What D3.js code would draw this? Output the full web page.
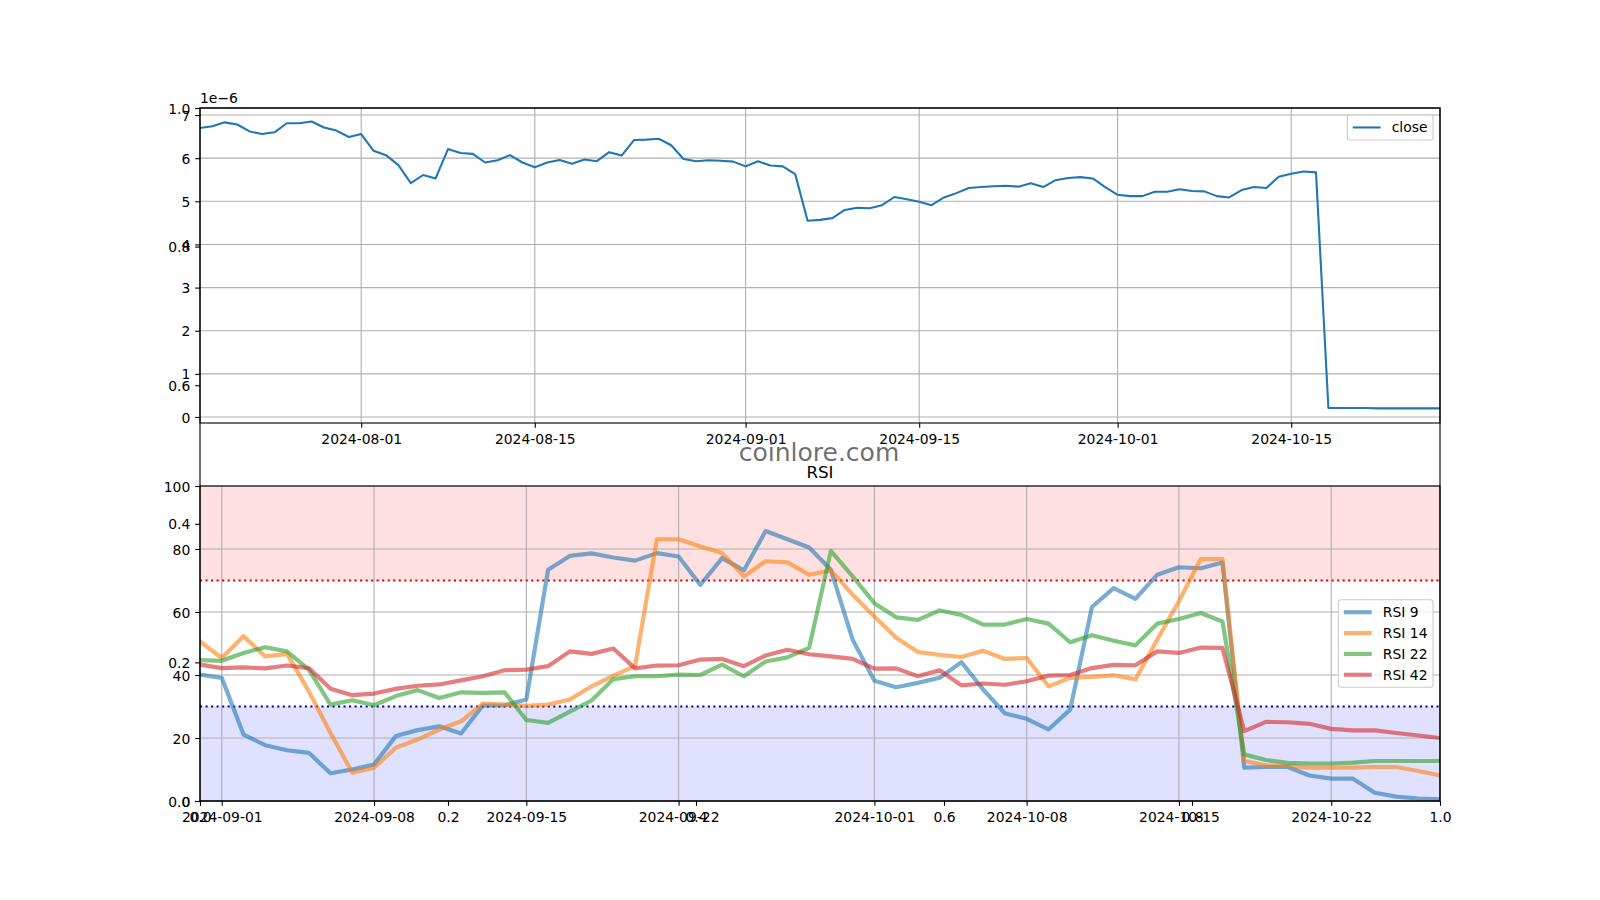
<!DOCTYPE html>
<html>
<head>
<meta charset="utf-8">
<script src="https://cdn.jsdelivr.net/npm/d3@7"></script>
<style>
  body { margin: 0; background: #fff; }
  svg { display: block; font-family: "DejaVu Sans", sans-serif; }
</style>
</head>
<body>
<svg id="chart" width="1600" height="900"></svg>
<script>
// ---------------- data ----------------
const closeStart = "2024-07-19";           // first daily close
const closeValues = [                        // daily close, USD
  6.70e-6, 6.74e-6, 6.83e-6, 6.78e-6, 6.62e-6, 6.56e-6, 6.60e-6, 6.81e-6, 6.81e-6, 6.85e-6,
  6.71e-6, 6.64e-6, 6.49e-6, 6.56e-6, 6.17e-6, 6.07e-6, 5.84e-6, 5.42e-6, 5.61e-6, 5.53e-6,
  6.21e-6, 6.12e-6, 6.10e-6, 5.90e-6, 5.95e-6, 6.07e-6, 5.90e-6, 5.79e-6, 5.90e-6, 5.96e-6,
  5.87e-6, 5.97e-6, 5.93e-6, 6.14e-6, 6.06e-6, 6.42e-6, 6.43e-6, 6.45e-6, 6.30e-6, 5.98e-6,
  5.93e-6, 5.95e-6, 5.94e-6, 5.92e-6, 5.81e-6, 5.93e-6, 5.83e-6, 5.81e-6, 5.63e-6, 4.55e-6,
  4.57e-6, 4.61e-6, 4.80e-6, 4.85e-6, 4.84e-6, 4.91e-6, 5.10e-6, 5.05e-6, 4.99e-6, 4.91e-6,
  5.09e-6, 5.19e-6, 5.31e-6, 5.33e-6, 5.35e-6, 5.36e-6, 5.34e-6, 5.42e-6, 5.33e-6, 5.49e-6,
  5.54e-6, 5.56e-6, 5.53e-6, 5.33e-6, 5.15e-6, 5.12e-6, 5.12e-6, 5.22e-6, 5.22e-6, 5.28e-6,
  5.24e-6, 5.23e-6, 5.12e-6, 5.09e-6, 5.26e-6, 5.33e-6, 5.31e-6, 5.57e-6, 5.64e-6, 5.69e-6,
  5.67e-6, 0.21e-6, 0.21e-6, 0.21e-6, 0.21e-6, 0.20e-6, 0.20e-6, 0.20e-6, 0.20e-6, 0.20e-6,
  0.20e-6
];

const rsiStart = "2024-08-31";
const rsi9 = [
  40.1, 39.1, 21.1, 17.7, 16.1, 15.3, 8.8, 10.0, 11.6, 20.6, 22.5, 23.7, 21.4, 30.3, 30.4, 32.2,
  73.4, 77.8, 78.6, 77.3, 76.3, 78.7, 77.6, 68.6, 77.1, 73.2, 85.7, 83.1, 80.5, 73.4, 51.2, 38.2,
  36.1, 37.5, 39.1, 44.1, 35.4, 27.8, 26.1, 22.7, 29.0, 61.6, 67.6, 64.2, 71.8, 74.2, 73.9, 75.7,
  10.6, 10.8, 10.8, 8.1, 7.1, 7.1, 2.6, 1.4, 0.8, 0.5
];
const rsi14 = [
  50.7, 45.4, 52.3, 45.9, 46.7, 34.8, 21.6, 9.0, 10.6, 16.9, 19.5, 22.7, 25.3, 30.9, 30.6, 30.2,
  30.6, 32.2, 36.4, 39.8, 42.8, 83.1, 83.1, 80.8, 78.7, 71.3, 76.1, 75.8, 71.8, 73.2, 65.5, 58.6,
  51.8, 47.3, 46.4, 45.7, 47.7, 45.1, 45.4, 36.4, 39.1, 39.4, 39.9, 38.6, 51.2, 63.4, 76.8, 76.8,
  12.7, 11.3, 11.1, 10.6, 10.6, 10.6, 10.8, 10.8, 9.5, 8.1
];
const rsi22 = [
  44.7, 44.5, 47.0, 48.8, 47.5, 41.7, 30.6, 32.0, 30.4, 33.3, 35.2, 32.7, 34.5, 34.3, 34.5, 25.7,
  24.8, 28.4, 31.9, 38.7, 39.6, 39.6, 40.1, 40.0, 43.3, 39.6, 44.3, 45.6, 48.6, 79.4, 71.3, 62.8,
  58.3, 57.5, 60.5, 59.1, 56.0, 56.0, 57.8, 56.3, 50.4, 52.6, 50.9, 49.4, 56.3, 57.8, 59.7, 57.0,
  14.8, 13.0, 12.1, 11.9, 11.9, 12.2, 12.7, 12.7, 12.7, 12.7
];
const rsi42 = [
  43.3, 42.2, 42.4, 42.1, 43.0, 42.2, 35.6, 33.6, 34.1, 35.6, 36.6, 37.0, 38.3, 39.6, 41.5, 41.7,
  42.8, 47.5, 46.7, 48.4, 42.1, 43.0, 43.1, 44.9, 45.1, 42.8, 46.2, 48.0, 46.6, 45.9, 45.1, 42.0,
  42.1, 39.6, 41.5, 36.7, 37.3, 36.9, 38.0, 39.8, 40.0, 42.2, 43.2, 43.1, 47.5, 47.0, 48.7, 48.6,
  22.2, 25.1, 25.0, 24.5, 22.9, 22.4, 22.4, 21.6, 20.8, 20.0
];
const rsiNames = ["RSI 9", "RSI 14", "RSI 22", "RSI 42"];
const rsiSeries = [rsi9, rsi14, rsi22, rsi42];
const rsiUpper = 70;
const rsiLower = 30;

const closeDateTicks = ["2024-08-01", "2024-08-15", "2024-09-01", "2024-09-15", "2024-10-01", "2024-10-15"];
const rsiDateTicks = ["2024-09-01", "2024-09-08", "2024-09-15", "2024-09-22", "2024-10-01", "2024-10-08", "2024-10-15", "2024-10-22"];
const closeYTicks = [0, 1, 2, 3, 4, 5, 6, 7];
const rsiYTicks = [0, 20, 40, 60, 80, 100];
const baseTicks = [0.0, 0.2, 0.4, 0.6, 0.8, 1.0];

// ---------------- layout / style ----------------
const colors = ["#1f77b4", "#ff7f0e", "#2ca02c", "#d62728"];
const FS = 13.9, TICK = 4.86, PAD = 4.86, SPINE = 1.1, GRID = "#b0b0b0";
const L = 200, R = 1440;
const topAx = { y0: 108, y1: 423 };
const botAx = { y0: 486, y1: 801 };

const parse = d3.utcParse("%Y-%m-%d");
const fmtDate = d3.utcFormat("%Y-%m-%d");
const closeDates = closeValues.map((_, i) => d3.utcDay.offset(parse(closeStart), i));
const rsiDates = rsi9.map((_, i) => d3.utcDay.offset(parse(rsiStart), i));

const svg = d3.select("#chart");
svg.append("rect").attr("width", 1600).attr("height", 900).attr("fill", "#fff");

function styleAxis(g, dy) {
  g.select(".domain").remove();
  g.selectAll(".tick line").attr("stroke", "#000").attr("stroke-width", SPINE);
  g.selectAll(".tick text")
    .attr("fill", "#000")
    .style("font-family", '"DejaVu Sans", sans-serif')
    .style("font-size", FS + "px")
    .attr("dy", dy);
  g.attr("font-family", null).attr("font-size", null);
}

// ---------------- base (0..1) axes ----------------
const bx = d3.scaleLinear().domain([0, 1]).range([L, R]);
const by = d3.scaleLinear().domain([0, 1]).range([botAx.y1, topAx.y0]);
const baseG = svg.append("g");
baseG.append("rect").attr("x", L).attr("y", topAx.y0).attr("width", R - L)
  .attr("height", botAx.y1 - topAx.y0).attr("fill", "#fff");

// ---------------- top axes: close ----------------
const tx = d3.scaleUtc().domain([closeDates[0], closeDates[closeDates.length - 1]]).range([L, R]);
const ty = d3.scaleLinear().domain([-0.139e-6, 7.163e-6]).range([topAx.y1, topAx.y0]);
const topG = svg.append("g");
topG.append("rect").attr("x", L).attr("y", topAx.y0).attr("width", R - L)
  .attr("height", topAx.y1 - topAx.y0).attr("fill", "#fff");
svg.append("clipPath").attr("id", "clipTop").append("rect")
  .attr("x", L).attr("y", topAx.y0).attr("width", R - L).attr("height", topAx.y1 - topAx.y0);
// grid
topG.append("g").selectAll("line").data(closeDateTicks.map(parse)).join("line")
  .attr("x1", d => tx(d)).attr("x2", d => tx(d)).attr("y1", topAx.y0).attr("y2", topAx.y1)
  .attr("stroke", GRID).attr("stroke-width", SPINE);
topG.append("g").selectAll("line").data(closeYTicks).join("line")
  .attr("x1", L).attr("x2", R).attr("y1", d => ty(d * 1e-6)).attr("y2", d => ty(d * 1e-6))
  .attr("stroke", GRID).attr("stroke-width", SPINE);
// line
topG.append("path").datum(closeValues)
  .attr("clip-path", "url(#clipTop)")
  .attr("fill", "none").attr("stroke", colors[0]).attr("stroke-width", 2.08)
  .attr("stroke-linejoin", "round").attr("stroke-linecap", "square")
  .attr("d", d3.line().x((d, i) => tx(closeDates[i])).y(d => ty(d)));
// axes
topG.append("g").attr("transform", `translate(0,${topAx.y1})`)
  .call(d3.axisBottom(tx).tickValues(closeDateTicks.map(parse)).tickFormat(fmtDate).tickSize(TICK).tickPadding(PAD))
  .call(g => styleAxis(g, "0.83em"));
topG.append("g").attr("transform", `translate(${L},0)`)
  .call(d3.axisLeft(ty).tickValues(closeYTicks.map(d => d * 1e-6)).tickFormat(d => d3.format("d")(Math.round(d * 1e6))).tickSize(TICK).tickPadding(PAD))
  .call(g => styleAxis(g, "0.36em"));
topG.append("rect").attr("x", L).attr("y", topAx.y0).attr("width", R - L)
  .attr("height", topAx.y1 - topAx.y0).attr("fill", "none").attr("stroke", "#000").attr("stroke-width", SPINE);
topG.append("text").attr("x", L).attr("y", 103.3).attr("font-size", FS).text("1e\u22126");

// legend (close)
function legend(g, names, cols, lineW, opacity, right, top, centerY) {
  const bp = 0.4 * FS, ls = 0.5 * FS, hl = 2.0 * FS, htp = 0.8 * FS, rowH = FS;
  const lg = g.append("g");
  const tmp = lg.append("g");
  const widths = names.map(n => {
    const t = tmp.append("text").attr("font-size", FS).text(n);
    const w = t.node().getComputedTextLength(); t.remove(); return w;
  });
  tmp.remove();
  const W = 2 * bp + hl + htp + d3.max(widths);
  const H = 2 * bp + names.length * rowH + (names.length - 1) * ls;
  const x0 = right - W;
  const y0 = centerY != null ? centerY - H / 2 : top;
  lg.append("rect").attr("x", x0).attr("y", y0).attr("width", W).attr("height", H)
    .attr("rx", 0.2 * FS).attr("fill", "#fff").attr("fill-opacity", 0.8)
    .attr("stroke", "#cccccc").attr("stroke-width", SPINE);
  names.forEach((n, i) => {
    const cy = y0 + bp + rowH / 2 + i * (rowH + ls);
    lg.append("line").attr("x1", x0 + bp).attr("x2", x0 + bp + hl).attr("y1", cy).attr("y2", cy)
      .attr("stroke", cols[i]).attr("stroke-width", lineW).attr("stroke-opacity", opacity);
    lg.append("text").attr("x", x0 + bp + hl + htp).attr("y", cy).attr("dy", "0.36em")
      .attr("font-size", FS).attr("fill", "#000").text(n);
  });
}
legend(topG, ["close"], [colors[0]], 2.08, 1, R - 0.5 * FS, topAx.y0 + 0.5 * FS, null);

// ---------------- bottom axes: RSI ----------------
const rx = d3.scaleUtc().domain([rsiDates[0], rsiDates[rsiDates.length - 1]]).range([L, R]);
const ry = d3.scaleLinear().domain([0, 100]).range([botAx.y1, botAx.y0]);
const botG = svg.append("g");
botG.append("rect").attr("x", L).attr("y", botAx.y0).attr("width", R - L)
  .attr("height", botAx.y1 - botAx.y0).attr("fill", "#fff");
svg.append("clipPath").attr("id", "clipBot").append("rect")
  .attr("x", L).attr("y", botAx.y0).attr("width", R - L).attr("height", botAx.y1 - botAx.y0);
// zones
botG.append("rect").attr("x", L).attr("width", R - L)
  .attr("y", ry(100)).attr("height", ry(rsiUpper) - ry(100))
  .attr("fill", "#ff0000").attr("fill-opacity", 0.12);
botG.append("rect").attr("x", L).attr("width", R - L)
  .attr("y", ry(rsiLower)).attr("height", ry(0) - ry(rsiLower))
  .attr("fill", "#0000ff").attr("fill-opacity", 0.12);
// grid
botG.append("g").selectAll("line").data(rsiDateTicks.map(parse)).join("line")
  .attr("x1", d => rx(d)).attr("x2", d => rx(d)).attr("y1", botAx.y0).attr("y2", botAx.y1)
  .attr("stroke", GRID).attr("stroke-width", SPINE);
botG.append("g").selectAll("line").data(rsiYTicks).join("line")
  .attr("x1", L).attr("x2", R).attr("y1", d => ry(d)).attr("y2", d => ry(d))
  .attr("stroke", GRID).attr("stroke-width", SPINE);
// threshold lines
botG.append("line").attr("x1", L).attr("x2", R).attr("y1", ry(rsiUpper)).attr("y2", ry(rsiUpper))
  .attr("stroke", "#dd0000").attr("stroke-width", 2.08).attr("stroke-dasharray", "2.08,3.44");
botG.append("line").attr("x1", L).attr("x2", R).attr("y1", ry(rsiLower)).attr("y2", ry(rsiLower))
  .attr("stroke", "#0000aa").attr("stroke-width", 2.08).attr("stroke-dasharray", "2.08,3.44");
// RSI lines
rsiSeries.forEach((s, k) => {
  botG.append("path").datum(s)
    .attr("clip-path", "url(#clipBot)")
    .attr("fill", "none").attr("stroke", colors[k]).attr("stroke-width", 4.17)
    .attr("stroke-opacity", 0.6).attr("stroke-linejoin", "round").attr("stroke-linecap", "square")
    .attr("d", d3.line().x((d, i) => rx(rsiDates[i])).y(d => ry(d)));
});
// axes
botG.append("g").attr("transform", `translate(0,${botAx.y1})`)
  .call(d3.axisBottom(rx).tickValues(rsiDateTicks.map(parse)).tickFormat(fmtDate).tickSize(TICK).tickPadding(PAD))
  .call(g => styleAxis(g, "0.83em"));
botG.append("g").attr("transform", `translate(${L},0)`)
  .call(d3.axisLeft(ry).tickValues(rsiYTicks).tickFormat(d3.format("d")).tickSize(TICK).tickPadding(PAD))
  .call(g => styleAxis(g, "0.36em"));
botG.append("rect").attr("x", L).attr("y", botAx.y0).attr("width", R - L)
  .attr("height", botAx.y1 - botAx.y0).attr("fill", "none").attr("stroke", "#000").attr("stroke-width", SPINE);
botG.append("text").attr("x", (L + R) / 2).attr("y", botAx.y0 - 8.33)
  .attr("text-anchor", "middle").attr("font-size", 16.67).attr("fill", "#000").text("RSI");
legend(botG, rsiNames, colors, 4.17, 0.6, R - 0.5 * FS, null, (botAx.y0 + botAx.y1) / 2);

// ---------------- base axes frame & ticks (drawn over) ----------------
const baseTop = svg.append("g");
baseTop.append("rect").attr("x", L).attr("y", topAx.y0).attr("width", R - L)
  .attr("height", botAx.y1 - topAx.y0).attr("fill", "none").attr("stroke", "#000").attr("stroke-width", SPINE);
baseTop.append("g").attr("transform", `translate(${L},0)`)
  .call(d3.axisLeft(by).tickValues(baseTicks).tickFormat(d3.format(".1f")).tickSize(TICK).tickPadding(PAD))
  .call(g => styleAxis(g, "0.36em"));
baseTop.append("g").attr("transform", `translate(0,${botAx.y1})`)
  .call(d3.axisBottom(bx).tickValues(baseTicks).tickFormat(d3.format(".1f")).tickSize(TICK).tickPadding(PAD))
  .call(g => styleAxis(g, "0.83em"));

// watermark
svg.append("text").attr("x", 819).attr("y", 461).attr("text-anchor", "middle")
  .attr("font-size", 25).attr("fill", "#555").attr("fill-opacity", 0.85).text("coinlore.com");
</script>
</body>
</html>
